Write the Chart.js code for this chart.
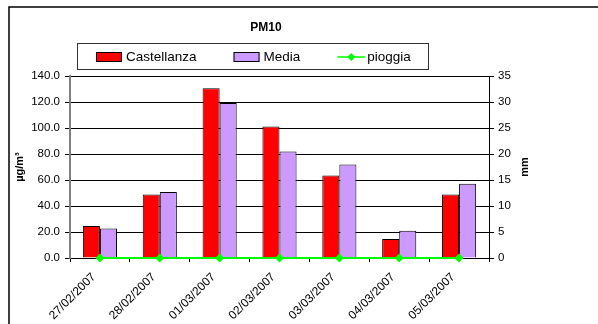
<!DOCTYPE html>
<html>
<head>
<meta charset="utf-8">
<script src="https://cdn.jsdelivr.net/npm/chart.js@4"></script>
<style>
  body { margin: 0; background: #fff; }
  #wrap { width: 598px; height: 324px; position: relative; }
</style>
</head>
<body>
<div id="wrap"><canvas id="pm10" width="598" height="324"></canvas></div>
<script>
const days = ["27/02/2007", "28/02/2007", "01/03/2007", "02/03/2007", "03/03/2007", "04/03/2007", "05/03/2007"];
const castellanza = [24.7, 48.9, 130.5, 101.2, 63.5, 14.6, 48.9];
const media = [22.7, 50.7, 119.2, 82.0, 72.0, 21.0, 57.1];
const pioggia = [0, 0, 0, 0, 0, 0, 0];
const pmTicks = [0, 20, 40, 60, 80, 100, 120, 140];
const mmTicks = [0, 5, 10, 15, 20, 25, 30, 35];

const FONT = "Arial, 'Liberation Sans', sans-serif";

// frame, title, legend box and the two vertical axis titles
const decorations = {
  id: 'decorations',
  afterDraw(chart) {
    const c = chart.ctx;
    c.save();
    // outer frame (only left and top edges fall inside the canvas)
    c.strokeStyle = '#000';
    c.lineWidth = 1.5;
    c.beginPath();
    c.moveTo(9, 330);
    c.lineTo(9, 7);
    c.lineTo(610, 7);
    c.stroke();

    c.fillStyle = '#000';
    c.font = 'bold 12px ' + FONT;
    c.textAlign = 'center';
    c.textBaseline = 'middle';
    c.fillText('PM10', 266, 28);

    // legend
    c.lineWidth = 1;
    c.strokeStyle = '#333';
    c.strokeRect(77.5, 43.5, 351, 26);
    c.font = '13.5px ' + FONT;
    c.textAlign = 'left';
    let x = 96;
    const cy = 57;
    chart.data.datasets.forEach((ds) => {
      if (ds.type === 'line') {
        c.strokeStyle = ds.borderColor;
        c.lineWidth = 1.5;
        c.beginPath();
        c.moveTo(x, cy);
        c.lineTo(x + 28, cy);
        c.stroke();
        c.fillStyle = ds.backgroundColor;
        c.beginPath();
        c.moveTo(x + 14, cy - 4);
        c.lineTo(x + 18, cy);
        c.lineTo(x + 14, cy + 4);
        c.lineTo(x + 10, cy);
        c.closePath();
        c.fill();
      } else {
        c.fillStyle = ds.backgroundColor;
        c.fillRect(x, cy - 5, 26, 10);
        c.strokeStyle = '#000';
        c.lineWidth = 1;
        c.strokeRect(x + 0.5, cy - 4.5, 25, 9);
      }
      c.fillStyle = '#000';
      const tx = x + 30;
      c.fillText(ds.label, tx, cy + 0.5);
      x = tx + c.measureText(ds.label).width + 37;
    });

    // axis titles, both reading bottom to top
    c.font = 'bold 11px ' + FONT;
    c.textAlign = 'center';
    const mid = (chart.chartArea.top + chart.chartArea.bottom) / 2;
    [['µg/m³', 20], ['mm', 525]].forEach(([t, px]) => {
      c.save();
      c.translate(px, mid);
      c.rotate(-Math.PI / 2);
      c.fillText(t, 0, 0);
      c.restore();
    });
    c.restore();
  }
};

new Chart(document.getElementById('pm10'), {
  type: 'bar',
  data: {
    labels: days,
    datasets: [
      {
        label: 'Castellanza',
        data: castellanza,
        backgroundColor: '#ff0000',
        borderColor: '#000',
        borderWidth: 1,
        yAxisID: 'y',
        order: 2
      },
      {
        label: 'Media',
        data: media,
        backgroundColor: '#cc99ff',
        borderColor: '#000',
        borderWidth: 1,
        yAxisID: 'y',
        order: 2
      },
      {
        type: 'line',
        label: 'pioggia',
        data: pioggia,
        borderColor: '#00ff00',
        backgroundColor: '#00ff00',
        borderWidth: 2,
        pointStyle: 'rectRot',
        pointRadius: 4.5,
        pointBorderWidth: 0,
        clip: false,
        yAxisID: 'y1',
        order: 1
      }
    ]
  },
  options: {
    responsive: false,
    animation: false,
    layout: { padding: { top: 76, left: 0, right: 0, bottom: 0 } },
    datasets: { bar: { barPercentage: 1, categoryPercentage: 0.57 } },
    plugins: {
      legend: { display: false },
      title: { display: false },
      tooltip: { enabled: false }
    },
    scales: {
      x: {
        afterFit: (s) => { s.height = 66; },
        border: { color: '#000', width: 1 },
        grid: { drawOnChartArea: false, drawTicks: true, tickLength: 4, offset: true, color: '#000' },
        ticks: {
          color: '#000',
          font: { family: FONT, size: 12 },
          minRotation: 45,
          maxRotation: 45,
          labelOffset: -6,
          padding: 8
        }
      },
      y: {
        position: 'left',
        min: 0,
        max: 140,
        afterFit: (s) => { s.width = 70; },
        afterBuildTicks: (s) => { s.ticks = pmTicks.map((v) => ({ value: v })); },
        border: { color: '#808080', width: 2 },
        grid: { color: '#000', tickLength: 5 },
        ticks: {
          color: '#000',
          padding: 5,
          font: { family: FONT, size: 11.5 },
          callback: (v) => v.toFixed(1)
        }
      },
      y1: {
        position: 'right',
        min: 0,
        max: 35,
        afterFit: (s) => { s.width = 109; },
        afterBuildTicks: (s) => { s.ticks = mmTicks.map((v) => ({ value: v })); },
        border: { color: '#000', width: 1 },
        grid: { drawOnChartArea: false, color: '#000', tickLength: 5 },
        ticks: {
          color: '#000',
          padding: 4,
          font: { family: FONT, size: 11.5 }
        }
      }
    }
  },
  plugins: [decorations]
});
</script>
</body>
</html>
